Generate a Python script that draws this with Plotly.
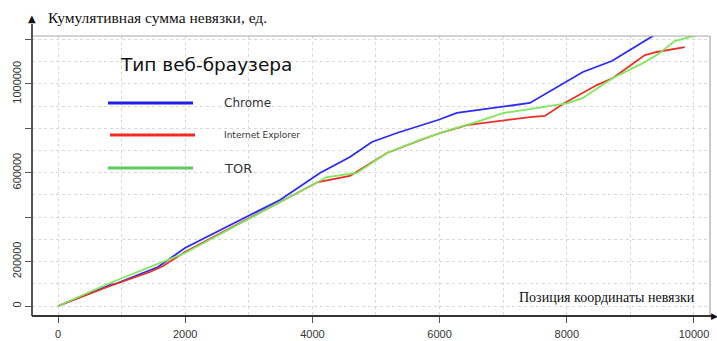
import plotly.graph_objects as go

# ---- data ----
chrome_x = [0, 817, 896, 1572, 1996, 3490, 4119, 4590, 4936, 5329, 5974, 6272, 7420, 8253, 8709, 9353, 9500]
chrome_y = [0, 94600, 99100, 175700, 261200, 477400, 599000, 671100, 738700, 779200, 837700, 869300, 914300, 1054000, 1103500, 1216000, 1250000]

ie_x = [0, 817, 1446, 1651, 1996, 4087, 4590, 5172, 5581, 6005, 6430, 7420, 7656, 7939, 8473, 8725, 9228, 9416, 9856]
ie_y = [0, 90000, 153000, 180000, 243000, 558500, 585500, 689000, 734000, 779000, 815000, 851000, 856000, 910000, 995000, 1027000, 1130000, 1144000, 1166000]

tor_x = [0, 817, 1996, 4229, 4700, 5172, 5691, 6162, 6587, 6995, 7420, 8017, 8253, 8725, 9196, 9416, 9699, 9967, 10100]
tor_y = [0, 103600, 238700, 581000, 599000, 689000, 748000, 793000, 829000, 869000, 887000, 914000, 937000, 1027000, 1094000, 1130000, 1193000, 1216000, 1225000]

x_tickvals = [0, 2000, 4000, 6000, 8000, 10000]
x_ticktext = ["0", "2000", "4000", "6000", "8000", "10000"]
y_tickvals = [0, 200000, 400000, 600000, 800000, 1000000, 1200000]
y_ticktext = ["0", "200000", "", "600000", "", "1000000", ""]

series_names = ["Chrome", "Internet Explorer", "TOR"]
series_colors = ["#2b2bf5", "#ec2f26", "#7ee85c"]
legend_colors = ["#1f1fe6", "#ef2b24", "#5ccb5c"]
legend_sizes = [12, 9, 13]

fig = go.Figure()
for xs, ys, name, col in zip([chrome_x, ie_x, tor_x], [chrome_y, ie_y, tor_y], series_names, series_colors):
    fig.add_trace(go.Scatter(x=xs, y=ys, mode="lines", name=name,
                             line=dict(color=col, width=1.8), showlegend=False))

grid = "#d9d9d9"
fig.update_layout(
    width=717, height=341,
    margin=dict(l=32, r=7, t=36, b=25),
    paper_bgcolor="white", plot_bgcolor="white",
    font=dict(family="Liberation Sans, Arial", color="#333333", size=11),
    xaxis=dict(range=[-409, 10252], tickvals=x_tickvals, ticktext=x_ticktext,
               showgrid=True, gridcolor=grid,
               griddash="dot", gridwidth=1, zeroline=False, automargin=False,
               ticks="outside", ticklen=6, tickcolor="#555555", tickwidth=1,
               ticklabelstandoff=2,
               showline=False,
               minor=dict(dtick=1000, tick0=0, showgrid=True, gridcolor=grid, griddash="dot", ticks=""),
               tickfont=dict(size=11, color="#333333")),
    yaxis=dict(range=[-45000, 1216000], tickvals=y_tickvals, ticktext=y_ticktext,
               showgrid=True, gridcolor=grid, griddash="dot", gridwidth=1, zeroline=False,
               automargin=False,
               ticks="outside", ticklen=6, tickcolor="#555555", tickwidth=1,
               tickangle=-90, showline=False,
               minor=dict(dtick=100000, tick0=0, showgrid=True, gridcolor=grid, griddash="dot", ticks=""),
               tickfont=dict(size=11, color="#333333")),
)

shapes = []
# white box behind x-axis title
shapes.append(dict(type="rect", xref="paper", yref="paper", x0=(507-32)/678, x1=1, y0=0, y1=(316-283)/280,
                   fillcolor="white", line=dict(width=0), layer="between"))
# light frame (top/right)
shapes.append(dict(type="line", xref="paper", yref="paper", x0=0, x1=1, y0=1, y1=1,
                   line=dict(color="#a8a8a8", width=1.2), layer="above"))
shapes.append(dict(type="line", xref="paper", yref="paper", x0=1, x1=1, y0=0, y1=1,
                   line=dict(color="#a8a8a8", width=1.2), layer="above"))
# dark axes
shapes.append(dict(type="line", xref="paper", yref="paper", x0=0, x1=0, y0=0, y1=(316-24)/280,
                   line=dict(color="#555555", width=2), layer="above"))
shapes.append(dict(type="line", xref="paper", yref="paper", x0=0, x1=(712-32)/678, y0=0, y1=0,
                   line=dict(color="#333333", width=2), layer="above"))

# legend lines
leg_y = [103, 135, 168]
leg_x0 = [108, 110, 108]
for yy, x0, col in zip(leg_y, leg_x0, legend_colors):
    shapes.append(dict(type="line", xref="paper", yref="paper",
                       x0=(x0-32)/678, x1=(x0+85-32)/678, y0=(316-yy)/280, y1=(316-yy)/280,
                       line=dict(color=col, width=3), layer="above"))
fig.update_layout(shapes=shapes)

ann = []
ann.append(dict(text="Тип веб-браузера", xref="paper", yref="paper", x=(206-32)/678, y=(316-65)/280,
                xanchor="center", yanchor="middle", showarrow=False,
                font=dict(family="DejaVu Sans", size=18.5, color="#111111")))
for yy, name, sz in zip(leg_y, series_names, legend_sizes):
    ann.append(dict(text=name, xref="paper", yref="paper", x=(222-32)/678, y=(316-yy)/280,
                    xanchor="left", yanchor="middle", showarrow=False,
                    font=dict(family="DejaVu Sans", size=sz, color="#333333")))
ann.append(dict(text="Позиция координаты невязки", xref="paper", yref="paper",
                x=(607-32)/678, y=(316-297)/280, xanchor="center", yanchor="middle", showarrow=False,
                font=dict(family="Liberation Serif, Times New Roman", size=14, color="#111111")))
ann.append(dict(text="Кумулятивная сумма невязки, ед.", xref="paper", yref="paper",
                x=(46-32)/678, y=(316-17)/280, xanchor="left", yanchor="middle", showarrow=False,
                font=dict(family="Liberation Serif, Times New Roman", size=15.5, color="#111111")))
ann.append(dict(text="▲", xref="paper", yref="paper", x=0, y=(316-18)/280,
                xanchor="center", yanchor="middle", showarrow=False,
                font=dict(family="DejaVu Sans", size=10, color="#111111")))
ann.append(dict(text="▶", xref="paper", yref="paper", x=(714-32)/678, y=0,
                xanchor="center", yanchor="middle", showarrow=False,
                font=dict(family="DejaVu Sans", size=9, color="#111111")))
fig.update_layout(annotations=ann)

fig.write_html("out.html", config={"displayModeBar": False},
               post_script="document.body.style.margin='0';document.body.style.padding='0';")
